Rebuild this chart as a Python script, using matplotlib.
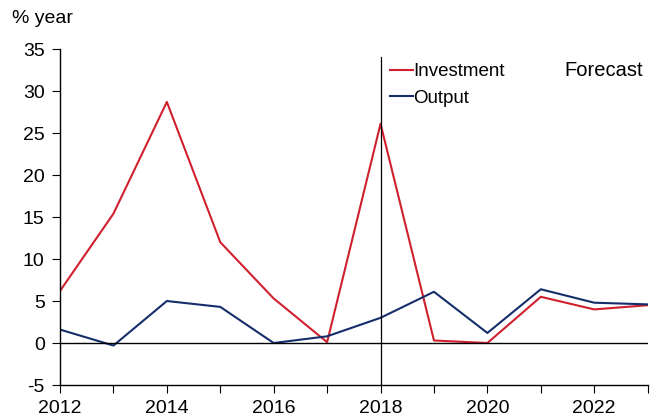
import matplotlib
matplotlib.use("Agg")
import matplotlib.pyplot as plt

years = [2012, 2013, 2014, 2015, 2016, 2017, 2018, 2019, 2020, 2021, 2022, 2023]
investment = [6.2, 15.4, 28.7, 12.0, 5.3, 0.1, 26.1, 0.3, 0.0, 5.5, 4.0, 4.5]
output = [1.6, -0.3, 5.0, 4.3, 0.0, 0.8, 3.0, 6.1, 1.2, 6.4, 4.8, 4.6]
forecast_start = 2018

plt.rcParams['font.family'] = ['Liberation Sans', 'DejaVu Sans']
plt.rcParams['axes.unicode_minus'] = False

fig = plt.figure(figsize=(6.61, 4.19), dpi=100)
ax = fig.add_axes([0.0908, 0.0811, 0.889, 0.8019])

ax.plot(years, investment, color='#d0202e', lw=1.5, label='Investment')
ax.plot(years, output, color='#152e6b', lw=1.5, label='Output')

ax.axhline(0, color='black', lw=1)
ax.plot([forecast_start, forecast_start], [-5, 34], color='black', lw=0.9)

ax.set_xlim(2012, 2023)
ax.set_ylim(-5, 35)
ax.set_yticks(range(-5, 36, 5))
ax.set_xticks(range(2012, 2024))
ax.set_xticklabels([str(y) if y % 2 == 0 else '' for y in range(2012, 2024)])

for s in ['top', 'right']:
    ax.spines[s].set_visible(False)
for s in ['left', 'bottom']:
    ax.spines[s].set_linewidth(1)
ax.tick_params(axis='y', direction='out', length=6, labelsize=14, pad=5)
ax.tick_params(axis='x', direction='out', length=6, labelsize=14, pad=5)

ax.text(-0.082, 1.09, '% year', transform=ax.transAxes, fontsize=14, va='center')
ax.text(0.858, 0.935, 'Forecast', transform=ax.transAxes, fontsize=14.5, va='center')

ax.legend(loc='upper left', bbox_to_anchor=(0.549, 0.98), frameon=False, fontsize=13.5,
          handlelength=1.2, handletextpad=0.05, labelspacing=0.5, borderaxespad=0)

fig.savefig('out.png', dpi=100)
